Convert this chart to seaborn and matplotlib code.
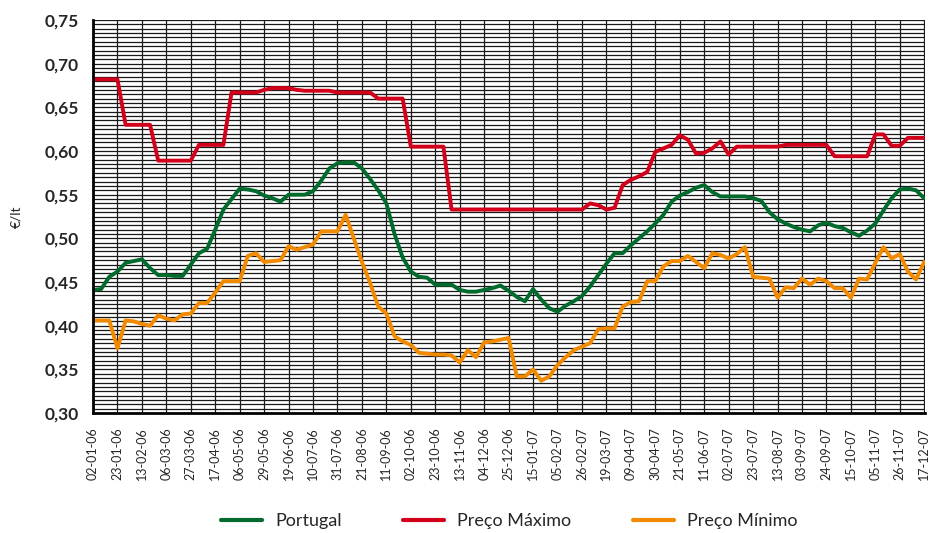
import pandas as pd
import matplotlib
matplotlib.use("Agg")
import matplotlib.pyplot as plt
from matplotlib.ticker import MultipleLocator, FuncFormatter
import seaborn as sns

# Weekly prices (EUR/lt), 02-01-06 .. 17-12-07
portugal = [0.441, 0.442, 0.456, 0.462, 0.472, 0.474, 0.476, 0.466, 0.458, 0.458,
            0.457, 0.457, 0.470, 0.483, 0.488, 0.510, 0.533, 0.545, 0.557, 0.556,
            0.554, 0.549, 0.546, 0.542, 0.550, 0.550, 0.550, 0.554, 0.566, 0.580,
            0.586, 0.587, 0.587, 0.580, 0.568, 0.555, 0.540, 0.505, 0.478, 0.462,
            0.456, 0.455, 0.447, 0.447, 0.447, 0.441, 0.439, 0.439, 0.441, 0.443,
            0.446, 0.440, 0.433, 0.428, 0.442, 0.430, 0.420, 0.416, 0.423, 0.428,
            0.434, 0.445, 0.458, 0.471, 0.483, 0.483, 0.492, 0.500, 0.508, 0.517,
            0.527, 0.542, 0.549, 0.553, 0.558, 0.561, 0.553, 0.548, 0.548, 0.548,
            0.548, 0.546, 0.543, 0.530, 0.522, 0.517, 0.513, 0.510, 0.508, 0.515,
            0.518, 0.514, 0.512, 0.507, 0.503, 0.509, 0.517, 0.532, 0.546, 0.556,
            0.557, 0.555, 0.546]

preco_max = [0.682, 0.682, 0.682, 0.682, 0.630, 0.630, 0.630, 0.630, 0.589, 0.589,
             0.589, 0.589, 0.589, 0.607, 0.607, 0.607, 0.607, 0.667, 0.667, 0.667,
             0.667, 0.670, 0.672, 0.672, 0.672, 0.670, 0.669, 0.669, 0.669, 0.669,
             0.667, 0.667, 0.667, 0.667, 0.667, 0.660, 0.660, 0.660, 0.660, 0.605,
             0.605, 0.605, 0.605, 0.605, 0.533, 0.533, 0.533, 0.533, 0.533, 0.533,
             0.533, 0.533, 0.533, 0.533, 0.533, 0.533, 0.533, 0.533, 0.533, 0.533,
             0.533, 0.540, 0.538, 0.533, 0.535, 0.561, 0.567, 0.571, 0.576, 0.599,
             0.603, 0.607, 0.618, 0.613, 0.597, 0.598, 0.603, 0.611, 0.596, 0.605,
             0.605, 0.605, 0.605, 0.605, 0.605, 0.607, 0.607, 0.607, 0.607, 0.607,
             0.607, 0.594, 0.594, 0.594, 0.594, 0.594, 0.619, 0.619, 0.606, 0.606,
             0.615, 0.615, 0.615]

preco_min = [0.406, 0.406, 0.406, 0.374, 0.406, 0.405, 0.402, 0.400, 0.412, 0.408,
             0.406, 0.413, 0.414, 0.426, 0.426, 0.438, 0.451, 0.451, 0.451, 0.480,
             0.483, 0.473, 0.474, 0.475, 0.491, 0.487, 0.490, 0.493, 0.508, 0.508,
             0.508, 0.527, 0.500, 0.473, 0.449, 0.422, 0.414, 0.388, 0.382, 0.378,
             0.369, 0.368, 0.367, 0.367, 0.366, 0.358, 0.372, 0.364, 0.381, 0.382,
             0.384, 0.386, 0.342, 0.342, 0.350, 0.337, 0.342, 0.355, 0.364, 0.372,
             0.376, 0.380, 0.396, 0.397, 0.397, 0.422, 0.427, 0.428, 0.451, 0.451,
             0.468, 0.474, 0.474, 0.480, 0.473, 0.466, 0.483, 0.481, 0.477, 0.482,
             0.490, 0.456, 0.455, 0.454, 0.432, 0.444, 0.443, 0.454, 0.447, 0.454,
             0.451, 0.443, 0.443, 0.432, 0.454, 0.453, 0.472, 0.490, 0.477, 0.482,
             0.462, 0.453, 0.473]

tick_labels = ["02-01-06", "23-01-06", "13-02-06", "06-03-06", "27-03-06", "17-04-06",
               "06-05-06", "29-05-06", "19-06-06", "10-07-06", "31-07-06", "21-08-06",
               "11-09-06", "02-10-06", "23-10-06", "13-11-06", "04-12-06", "25-12-06",
               "15-01-07", "05-02-07", "26-02-07", "19-03-07", "09-04-07", "30-04-07",
               "21-05-07", "11-06-07", "02-07-07", "23-07-07", "13-08-07", "03-09-07",
               "24-09-07", "15-10-07", "05-11-07", "26-11-07", "17-12-07"]

series = ["Portugal", "Preço Máximo", "Preço Mínimo"]
colors = ["#006B2D", "#D3001C", "#F28A00"]

semanas = list(range(len(portugal)))
df = pd.DataFrame({
    "semana": semanas * 3,
    "preco": portugal + preco_max + preco_min,
    "serie": [series[0]] * len(portugal) + [series[1]] * len(preco_max) + [series[2]] * len(preco_min),
})

sns.set_style("white")
plt.rcParams["font.family"] = ["Lato", "DejaVu Sans"]

fig = plt.figure(figsize=(9.32, 5.33), dpi=100)
ax = fig.add_axes([0.0998, 0.225, 0.8927, 0.7375])

# grid
ax.set_axisbelow(True)
ax.yaxis.set_minor_locator(MultipleLocator(0.005))
ax.grid(which="both", axis="y", color="#1a1a1a", linewidth=0.9)
ax.grid(which="major", axis="x", color="#1a1a1a", linewidth=0.9)

sns.lineplot(data=df, x="semana", y="preco", hue="serie", hue_order=series,
             palette=colors, linewidth=2.8, ax=ax)

ax.set_xlim(0, 102.1)
ax.set_ylim(0.30, 0.75)
ax.set_yticks([0.30 + 0.05 * i for i in range(10)])
ax.yaxis.set_major_formatter(FuncFormatter(lambda v, p: f"{v:.2f}".replace(".", ",")))
ax.set_xticks(list(range(0, len(portugal), 3)))
ax.set_xticklabels(tick_labels, rotation=90, fontsize=9)
for lab in ax.get_yticklabels():
    lab.set_fontweight("bold")
    lab.set_fontsize(12.5)

ax.tick_params(axis="y", which="major", direction="out", length=5, width=1.2, color="black", pad=5)
ax.tick_params(axis="y", which="minor", length=0)
ax.tick_params(axis="x", direction="out", length=4, width=1.2, color="black", pad=6)

for s in ["top", "right"]:
    ax.spines[s].set_visible(False)
for s in ["left", "bottom"]:
    ax.spines[s].set_color("black")
    ax.spines[s].set_linewidth(2)

ax.set_xlabel("")
ax.set_ylabel("€/lt", fontsize=10, labelpad=16)

ax.legend(loc="center", bbox_to_anchor=(0.5, -0.275), ncol=3, frameon=False,
          fontsize=13, handlelength=2.3, columnspacing=3.4, handletextpad=0.7,
          borderaxespad=0, borderpad=0)
for line in ax.get_legend().get_lines():
    line.set_linewidth(3)

plt.savefig("out.png", dpi=100)
plt.close()
